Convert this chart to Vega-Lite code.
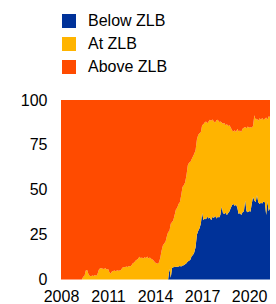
{
"$schema": "https://vega.github.io/schema/vega-lite/v6.json",
"width": 209, "height": 179.5,
"autosize": {"type": "none"},
"padding": {"left": 61, "top": 100, "right": 6, "bottom": 24.5},
"background": "white",
"config": {"view": {"stroke": null}, "font": "Liberation Sans"},
"data": {"values": [
{"d":"2008-01","Below ZLB":0,"At ZLB":0,"Above ZLB":100},
{"d":"2008-02","Below ZLB":0,"At ZLB":0,"Above ZLB":100},
{"d":"2008-03","Below ZLB":0,"At ZLB":0,"Above ZLB":100},
{"d":"2008-04","Below ZLB":0,"At ZLB":0,"Above ZLB":100},
{"d":"2008-05","Below ZLB":0,"At ZLB":0,"Above ZLB":100},
{"d":"2008-06","Below ZLB":0,"At ZLB":0,"Above ZLB":100},
{"d":"2008-07","Below ZLB":0,"At ZLB":0,"Above ZLB":100},
{"d":"2008-08","Below ZLB":0,"At ZLB":0,"Above ZLB":100},
{"d":"2008-09","Below ZLB":0,"At ZLB":0,"Above ZLB":100},
{"d":"2008-10","Below ZLB":0,"At ZLB":0,"Above ZLB":100},
{"d":"2008-11","Below ZLB":0,"At ZLB":0,"Above ZLB":100},
{"d":"2008-12","Below ZLB":0,"At ZLB":0,"Above ZLB":100},
{"d":"2009-01","Below ZLB":0,"At ZLB":0,"Above ZLB":100},
{"d":"2009-02","Below ZLB":0,"At ZLB":0,"Above ZLB":100},
{"d":"2009-03","Below ZLB":0,"At ZLB":0,"Above ZLB":100},
{"d":"2009-04","Below ZLB":0,"At ZLB":0,"Above ZLB":100},
{"d":"2009-05","Below ZLB":0,"At ZLB":0,"Above ZLB":100},
{"d":"2009-06","Below ZLB":0,"At ZLB":1.5,"Above ZLB":98.5},
{"d":"2009-07","Below ZLB":0,"At ZLB":2,"Above ZLB":98},
{"d":"2009-08","Below ZLB":0,"At ZLB":5,"Above ZLB":95},
{"d":"2009-09","Below ZLB":0,"At ZLB":5.3,"Above ZLB":94.7},
{"d":"2009-10","Below ZLB":0,"At ZLB":3,"Above ZLB":97},
{"d":"2009-11","Below ZLB":0,"At ZLB":2,"Above ZLB":98},
{"d":"2009-12","Below ZLB":0,"At ZLB":1.8,"Above ZLB":98.2},
{"d":"2010-01","Below ZLB":0,"At ZLB":2.2,"Above ZLB":97.8},
{"d":"2010-02","Below ZLB":0,"At ZLB":2,"Above ZLB":98},
{"d":"2010-03","Below ZLB":0,"At ZLB":2.5,"Above ZLB":97.5},
{"d":"2010-04","Below ZLB":0,"At ZLB":2,"Above ZLB":98},
{"d":"2010-05","Below ZLB":0,"At ZLB":3,"Above ZLB":97},
{"d":"2010-06","Below ZLB":0,"At ZLB":5.5,"Above ZLB":94.5},
{"d":"2010-07","Below ZLB":0,"At ZLB":6.3,"Above ZLB":93.7},
{"d":"2010-08","Below ZLB":0,"At ZLB":6.2,"Above ZLB":93.8},
{"d":"2010-09","Below ZLB":0,"At ZLB":6,"Above ZLB":94},
{"d":"2010-10","Below ZLB":0,"At ZLB":5.8,"Above ZLB":94.2},
{"d":"2010-11","Below ZLB":0,"At ZLB":6.4,"Above ZLB":93.6},
{"d":"2010-12","Below ZLB":0,"At ZLB":5.5,"Above ZLB":94.5},
{"d":"2011-01","Below ZLB":0,"At ZLB":6,"Above ZLB":94},
{"d":"2011-02","Below ZLB":0,"At ZLB":4,"Above ZLB":96},
{"d":"2011-03","Below ZLB":0,"At ZLB":3.2,"Above ZLB":96.8},
{"d":"2011-04","Below ZLB":0,"At ZLB":4.5,"Above ZLB":95.5},
{"d":"2011-05","Below ZLB":0,"At ZLB":4.8,"Above ZLB":95.2},
{"d":"2011-06","Below ZLB":0,"At ZLB":5,"Above ZLB":95},
{"d":"2011-07","Below ZLB":0,"At ZLB":4.6,"Above ZLB":95.4},
{"d":"2011-08","Below ZLB":0,"At ZLB":5.2,"Above ZLB":94.8},
{"d":"2011-09","Below ZLB":0,"At ZLB":4.9,"Above ZLB":95.1},
{"d":"2011-10","Below ZLB":0,"At ZLB":5,"Above ZLB":95},
{"d":"2011-11","Below ZLB":0,"At ZLB":5.5,"Above ZLB":94.5},
{"d":"2011-12","Below ZLB":0,"At ZLB":6.5,"Above ZLB":93.5},
{"d":"2012-01","Below ZLB":0,"At ZLB":7,"Above ZLB":93},
{"d":"2012-02","Below ZLB":0,"At ZLB":6.8,"Above ZLB":93.2},
{"d":"2012-03","Below ZLB":0,"At ZLB":7.2,"Above ZLB":92.8},
{"d":"2012-04","Below ZLB":0,"At ZLB":6.9,"Above ZLB":93.1},
{"d":"2012-05","Below ZLB":0,"At ZLB":7.5,"Above ZLB":92.5},
{"d":"2012-06","Below ZLB":0,"At ZLB":7.3,"Above ZLB":92.7},
{"d":"2012-07","Below ZLB":0,"At ZLB":8,"Above ZLB":92},
{"d":"2012-08","Below ZLB":0,"At ZLB":9,"Above ZLB":91},
{"d":"2012-09","Below ZLB":0,"At ZLB":9.5,"Above ZLB":90.5},
{"d":"2012-10","Below ZLB":0,"At ZLB":10.5,"Above ZLB":89.5},
{"d":"2012-11","Below ZLB":0,"At ZLB":11,"Above ZLB":89},
{"d":"2012-12","Below ZLB":0,"At ZLB":11.5,"Above ZLB":88.5},
{"d":"2013-01","Below ZLB":0,"At ZLB":12.7,"Above ZLB":87.3},
{"d":"2013-02","Below ZLB":0,"At ZLB":11.8,"Above ZLB":88.2},
{"d":"2013-03","Below ZLB":0,"At ZLB":12.2,"Above ZLB":87.8},
{"d":"2013-04","Below ZLB":0,"At ZLB":11.5,"Above ZLB":88.5},
{"d":"2013-05","Below ZLB":0,"At ZLB":12.5,"Above ZLB":87.5},
{"d":"2013-06","Below ZLB":0,"At ZLB":11.9,"Above ZLB":88.1},
{"d":"2013-07","Below ZLB":0,"At ZLB":12.8,"Above ZLB":87.2},
{"d":"2013-08","Below ZLB":0,"At ZLB":11.7,"Above ZLB":88.3},
{"d":"2013-09","Below ZLB":0,"At ZLB":12.3,"Above ZLB":87.7},
{"d":"2013-10","Below ZLB":0,"At ZLB":11.6,"Above ZLB":88.4},
{"d":"2013-11","Below ZLB":0,"At ZLB":11.2,"Above ZLB":88.8},
{"d":"2013-12","Below ZLB":0,"At ZLB":10.5,"Above ZLB":89.5},
{"d":"2014-01","Below ZLB":0,"At ZLB":9.5,"Above ZLB":90.5},
{"d":"2014-02","Below ZLB":0,"At ZLB":9,"Above ZLB":91},
{"d":"2014-03","Below ZLB":0,"At ZLB":8.8,"Above ZLB":91.2},
{"d":"2014-04","Below ZLB":0,"At ZLB":9.5,"Above ZLB":90.5},
{"d":"2014-05","Below ZLB":0,"At ZLB":12,"Above ZLB":88},
{"d":"2014-06","Below ZLB":0,"At ZLB":16,"Above ZLB":84},
{"d":"2014-07","Below ZLB":0,"At ZLB":19,"Above ZLB":81},
{"d":"2014-08","Below ZLB":0,"At ZLB":20,"Above ZLB":80},
{"d":"2014-09","Below ZLB":0,"At ZLB":21,"Above ZLB":79},
{"d":"2014-10","Below ZLB":0,"At ZLB":24,"Above ZLB":76},
{"d":"2014-11","Below ZLB":0,"At ZLB":26.5,"Above ZLB":73.5},
{"d":"2014-12","Below ZLB":6,"At ZLB":21,"Above ZLB":73},
{"d":"2015-01","Below ZLB":1,"At ZLB":30,"Above ZLB":69},
{"d":"2015-02","Below ZLB":6.5,"At ZLB":25.5,"Above ZLB":68},
{"d":"2015-03","Below ZLB":6.8,"At ZLB":26.2,"Above ZLB":67},
{"d":"2015-04","Below ZLB":7,"At ZLB":29,"Above ZLB":64},
{"d":"2015-05","Below ZLB":7.2,"At ZLB":31.8,"Above ZLB":61},
{"d":"2015-06","Below ZLB":7,"At ZLB":33,"Above ZLB":60},
{"d":"2015-07","Below ZLB":7.3,"At ZLB":34.7,"Above ZLB":58},
{"d":"2015-08","Below ZLB":7.5,"At ZLB":35.5,"Above ZLB":57},
{"d":"2015-09","Below ZLB":7.2,"At ZLB":39.8,"Above ZLB":53},
{"d":"2015-10","Below ZLB":7.8,"At ZLB":43.7,"Above ZLB":48.5},
{"d":"2015-11","Below ZLB":8,"At ZLB":44.5,"Above ZLB":47.5},
{"d":"2015-12","Below ZLB":8.5,"At ZLB":45.5,"Above ZLB":46},
{"d":"2016-01","Below ZLB":9,"At ZLB":49,"Above ZLB":42},
{"d":"2016-02","Below ZLB":10,"At ZLB":53.5,"Above ZLB":36.5},
{"d":"2016-03","Below ZLB":10.5,"At ZLB":54.5,"Above ZLB":35},
{"d":"2016-04","Below ZLB":11,"At ZLB":54.5,"Above ZLB":34.5},
{"d":"2016-05","Below ZLB":13,"At ZLB":54,"Above ZLB":33},
{"d":"2016-06","Below ZLB":13.6,"At ZLB":54.9,"Above ZLB":31.5},
{"d":"2016-07","Below ZLB":15,"At ZLB":55,"Above ZLB":30},
{"d":"2016-08","Below ZLB":18,"At ZLB":54,"Above ZLB":28},
{"d":"2016-09","Below ZLB":25,"At ZLB":53,"Above ZLB":22},
{"d":"2016-10","Below ZLB":27,"At ZLB":53.5,"Above ZLB":19.5},
{"d":"2016-11","Below ZLB":28.5,"At ZLB":53,"Above ZLB":18.5},
{"d":"2016-12","Below ZLB":31,"At ZLB":51,"Above ZLB":18},
{"d":"2017-01","Below ZLB":37,"At ZLB":49,"Above ZLB":14},
{"d":"2017-02","Below ZLB":33,"At ZLB":53.5,"Above ZLB":13.5},
{"d":"2017-03","Below ZLB":34,"At ZLB":53.5,"Above ZLB":12.5},
{"d":"2017-04","Below ZLB":33.5,"At ZLB":54.5,"Above ZLB":12},
{"d":"2017-05","Below ZLB":35,"At ZLB":52,"Above ZLB":13},
{"d":"2017-06","Below ZLB":34,"At ZLB":54,"Above ZLB":12},
{"d":"2017-07","Below ZLB":34.5,"At ZLB":54.5,"Above ZLB":11},
{"d":"2017-08","Below ZLB":33,"At ZLB":55.5,"Above ZLB":11.5},
{"d":"2017-09","Below ZLB":35,"At ZLB":54.2,"Above ZLB":10.8},
{"d":"2017-10","Below ZLB":34.2,"At ZLB":53.8,"Above ZLB":12},
{"d":"2017-11","Below ZLB":35.5,"At ZLB":52,"Above ZLB":12.5},
{"d":"2017-12","Below ZLB":34,"At ZLB":54.7,"Above ZLB":11.3},
{"d":"2018-01","Below ZLB":35,"At ZLB":54,"Above ZLB":11},
{"d":"2018-02","Below ZLB":34.5,"At ZLB":53.3,"Above ZLB":12.2},
{"d":"2018-03","Below ZLB":36,"At ZLB":52,"Above ZLB":12},
{"d":"2018-04","Below ZLB":40.6,"At ZLB":46.9,"Above ZLB":12.5},
{"d":"2018-05","Below ZLB":37,"At ZLB":49.8,"Above ZLB":13.2},
{"d":"2018-06","Below ZLB":36.5,"At ZLB":50.7,"Above ZLB":12.8},
{"d":"2018-07","Below ZLB":37.2,"At ZLB":48.8,"Above ZLB":14},
{"d":"2018-08","Below ZLB":36,"At ZLB":50.5,"Above ZLB":13.5},
{"d":"2018-09","Below ZLB":37,"At ZLB":48.5,"Above ZLB":14.5},
{"d":"2018-10","Below ZLB":38,"At ZLB":48,"Above ZLB":14},
{"d":"2018-11","Below ZLB":40,"At ZLB":44.5,"Above ZLB":15.5},
{"d":"2018-12","Below ZLB":41.5,"At ZLB":41.5,"Above ZLB":17},
{"d":"2019-01","Below ZLB":42,"At ZLB":40.5,"Above ZLB":17.5},
{"d":"2019-02","Below ZLB":41,"At ZLB":42.2,"Above ZLB":16.8},
{"d":"2019-03","Below ZLB":41.8,"At ZLB":40.2,"Above ZLB":18},
{"d":"2019-04","Below ZLB":40,"At ZLB":44,"Above ZLB":16},
{"d":"2019-05","Below ZLB":36.5,"At ZLB":46,"Above ZLB":17.5},
{"d":"2019-06","Below ZLB":37,"At ZLB":46,"Above ZLB":17},
{"d":"2019-07","Below ZLB":36,"At ZLB":46.2,"Above ZLB":17.8},
{"d":"2019-08","Below ZLB":37.5,"At ZLB":46.5,"Above ZLB":16},
{"d":"2019-09","Below ZLB":38,"At ZLB":46.5,"Above ZLB":15.5},
{"d":"2019-10","Below ZLB":44,"At ZLB":41,"Above ZLB":15},
{"d":"2019-11","Below ZLB":38,"At ZLB":46.3,"Above ZLB":15.7},
{"d":"2019-12","Below ZLB":37.5,"At ZLB":47.7,"Above ZLB":14.8},
{"d":"2020-01","Below ZLB":38.2,"At ZLB":46.4,"Above ZLB":15.4},
{"d":"2020-02","Below ZLB":37.8,"At ZLB":47.2,"Above ZLB":15},
{"d":"2020-03","Below ZLB":42,"At ZLB":42.5,"Above ZLB":15.5},
{"d":"2020-04","Below ZLB":46,"At ZLB":39.5,"Above ZLB":14.5},
{"d":"2020-05","Below ZLB":44,"At ZLB":47.5,"Above ZLB":8.5},
{"d":"2020-06","Below ZLB":43,"At ZLB":46,"Above ZLB":11},
{"d":"2020-07","Below ZLB":47,"At ZLB":42.5,"Above ZLB":10.5},
{"d":"2020-08","Below ZLB":43,"At ZLB":45.5,"Above ZLB":11.5},
{"d":"2020-09","Below ZLB":42,"At ZLB":47.8,"Above ZLB":10.2},
{"d":"2020-10","Below ZLB":42.8,"At ZLB":46.2,"Above ZLB":11},
{"d":"2020-11","Below ZLB":42.3,"At ZLB":47.7,"Above ZLB":10},
{"d":"2020-12","Below ZLB":43.5,"At ZLB":45.3,"Above ZLB":11.2},
{"d":"2021-01","Below ZLB":43,"At ZLB":46.5,"Above ZLB":10.5},
{"d":"2021-02","Below ZLB":36,"At ZLB":54.2,"Above ZLB":9.8},
{"d":"2021-03","Below ZLB":43.5,"At ZLB":45.5,"Above ZLB":11},
{"d":"2021-04","Below ZLB":38,"At ZLB":53,"Above ZLB":9},
{"d":"2021-05","Below ZLB":40,"At ZLB":50.5,"Above ZLB":9.5}
]},
"transform": [{"fold": ["Below ZLB", "At ZLB", "Above ZLB"], "as": ["series", "value"]}],
"mark": {"type": "area", "interpolate": "linear"},
"encoding": {
  "x": {"field": "d", "type": "temporal",
        "scale": {"type": "utc", "domain": [{"year": 2008, "month": 1, "date": 1, "utc": true}, {"year": 2021, "month": 5, "date": 1, "utc": true}]},
        "axis": {"values": [{"year": 2008, "utc": true}, {"year": 2011, "utc": true}, {"year": 2014, "utc": true}, {"year": 2017, "utc": true}, {"year": 2020, "utc": true}],
                 "format": "%Y", "title": null, "domain": false, "ticks": false, "grid": false,
                 "labelFlush": false, "labelOverlap": false, "labelFontSize": 16, "labelColor": "#000", "labelPadding": 9}},
  "y": {"field": "value", "type": "quantitative", "stack": "zero",
        "scale": {"domain": [0, 100], "nice": false},
        "axis": {"values": [0, 25, 50, 75, 100], "title": null, "domain": false, "ticks": false, "grid": false,
                 "labelFontSize": 16, "labelColor": "#000", "labelPadding": 14}},
  "color": {"field": "series", "type": "nominal",
            "scale": {"domain": ["Below ZLB", "At ZLB", "Above ZLB"], "range": ["#003299", "#FFB400", "#FF4B00"]},
            "legend": {"title": null, "orient": "none", "legendX": 0, "legendY": -87, "symbolType": "square", "symbolSize": 196,
                       "symbolStrokeWidth": 0, "symbolOpacity": 1, "labelFontSize": 16, "labelOffset": 11, "rowPadding": 7, "labelColor": "#000"}},
  "order": {"field": "series", "sort": "descending"}
}
}
